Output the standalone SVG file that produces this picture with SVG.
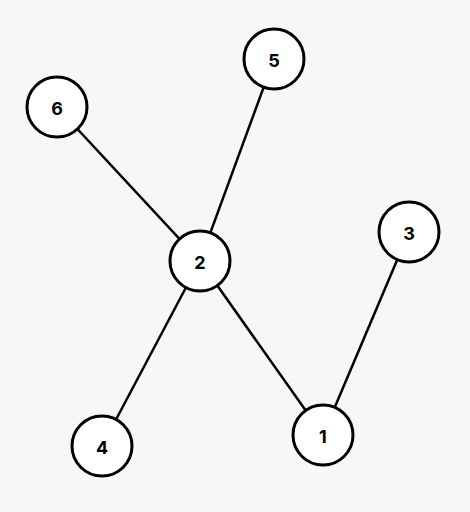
<svg xmlns="http://www.w3.org/2000/svg" width="470" height="512" viewBox="0 0 470 512">
<style>
.edge{stroke:#000;stroke-width:2.5;fill:none}
.node circle{fill:#fff;stroke:#000;stroke-width:3}
.node text{font-family:Inter,"Open Sans",sans-serif;font-weight:700;font-size:18px;fill:#000;text-anchor:middle;dominant-baseline:central}
</style>
<rect width="470" height="512" fill="#f7f7f7"/>
<g id="edges">
<line class="edge" x1="57" y1="107" x2="200" y2="261"/>
<line class="edge" x1="274" y1="59" x2="200" y2="261"/>
<line class="edge" x1="200" y1="261" x2="102" y2="446"/>
<line class="edge" x1="200" y1="261" x2="323" y2="435"/>
<line class="edge" x1="323" y1="435" x2="409" y2="232"/>
</g>
<g id="node1" class="node"><circle cx="323" cy="435" r="30"/><text x="323" y="436">1</text></g>
<g id="node2" class="node"><circle cx="200" cy="261" r="30"/><text x="200" y="262">2</text></g>
<g id="node3" class="node"><circle cx="409" cy="232" r="30"/><text x="409" y="233">3</text></g>
<g id="node4" class="node"><circle cx="102" cy="446" r="30"/><text x="102" y="447">4</text></g>
<g id="node5" class="node"><circle cx="274" cy="59" r="30"/><text x="274" y="60">5</text></g>
<g id="node6" class="node"><circle cx="57" cy="107" r="30"/><text x="57" y="108">6</text></g>
</svg>
